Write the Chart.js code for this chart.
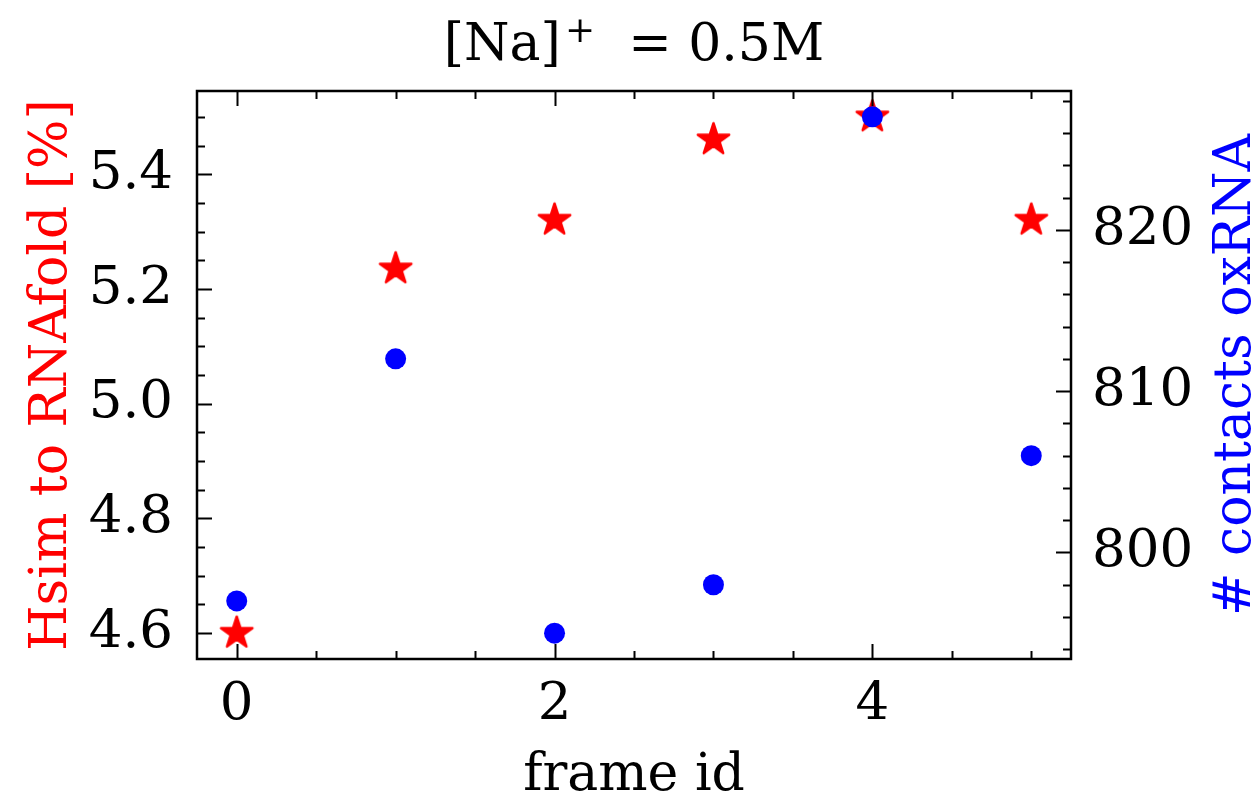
<!DOCTYPE html>
<html>
<head>
<meta charset="utf-8">
<script src="https://cdn.jsdelivr.net/npm/chart.js@4.4.0/dist/chart.umd.min.js"></script>
<style>
  html, body { margin: 0; padding: 0; background: #fff; }
  canvas { display: block; }
</style>
</head>
<body>
<canvas id="chart" width="1258" height="809"></canvas>
<script>
const frameIds = [0, 1, 2, 3, 4, 5];
const hsimPercent = [4.60, 5.235, 5.32, 5.46, 5.50, 5.32];
const contacts = [797, 812, 795, 798, 827, 806];

const FONT = '"DejaVu Serif", "Liberation Serif", serif';
const RED = '#ff0000';
const BLUE = '#0000ff';

// matplotlib-like 5% margins around the data
function padRange(vals) {
    const lo = Math.min(...vals), hi = Math.max(...vals);
    const p = (hi - lo) * 0.05;
    return [lo - p, hi + p];
}
const xRange = padRange(frameIds);
const hsimRange = padRange(hsimPercent);
const contactRange = padRange(contacts);

// filled five point star used as the marker of the red series
function makeStar(r, color) {
    const c = document.createElement('canvas');
    const s = Math.ceil(r * 2 + 6);
    c.width = s; c.height = s;
    const g = c.getContext('2d');
    const cx = s / 2, cy = s / 2, ri = r * 0.382;
    g.beginPath();
    for (let i = 0; i < 10; i++) {
        const rad = i % 2 === 0 ? r : ri;
        const a = -Math.PI / 2 + i * Math.PI / 5;
        const px = cx + rad * Math.cos(a), py = cy + rad * Math.sin(a);
        if (i === 0) g.moveTo(px, py); else g.lineTo(px, py);
    }
    g.closePath();
    g.fillStyle = color;
    g.fill();
    g.lineJoin = 'round';
    g.lineWidth = 2.5;
    g.strokeStyle = color;
    g.stroke();
    return c;
}

// frame, inward ticks on all four sides, axis titles and the title
const framePlugin = {
    id: 'frame',
    afterDraw(chart) {
        const { ctx, chartArea: a, scales } = chart;
        ctx.save();
        ctx.strokeStyle = '#000';
        ctx.lineWidth = 2;
        const MAJ = 15, MIN = 8;
        const near = (v, step) => Math.abs(v / step - Math.round(v / step)) < 1e-6;

        ctx.beginPath();
        const sx = scales.x;
        for (let v = Math.ceil(sx.min / 0.5) * 0.5; v <= sx.max + 1e-9; v += 0.5) {
            const px = Math.round(sx.getPixelForValue(v)) + 0.5;
            const len = near(v, 2) ? MAJ : MIN;
            ctx.moveTo(px, a.bottom); ctx.lineTo(px, a.bottom - len);
            ctx.moveTo(px, a.top); ctx.lineTo(px, a.top + len);
        }
        const sy = scales.y;
        for (let v = Math.ceil(sy.min / 0.05 - 1e-6) * 0.05; v <= sy.max + 1e-9; v += 0.05) {
            const py = Math.round(sy.getPixelForValue(v)) + 0.5;
            const len = near(v, 0.2) ? MAJ : MIN;
            ctx.moveTo(a.left, py); ctx.lineTo(a.left + len, py);
        }
        const sy2 = scales.y2;
        for (let v = Math.ceil(sy2.min / 2) * 2; v <= sy2.max + 1e-9; v += 2) {
            const py = Math.round(sy2.getPixelForValue(v)) + 0.5;
            const len = near(v, 10) ? MAJ : MIN;
            ctx.moveTo(a.right, py); ctx.lineTo(a.right - len, py);
        }
        ctx.stroke();

        ctx.lineWidth = 2.5;
        ctx.strokeRect(a.left, a.top, a.right - a.left, a.bottom - a.top);

        const midY = (a.top + a.bottom) / 2;
        const midX = (a.left + a.right) / 2;
        ctx.font = '52px ' + FONT;
        ctx.textBaseline = 'alphabetic';
        ctx.textAlign = 'center';
        ctx.fillStyle = '#000';
        ctx.fillText('frame id', midX, 790);

        ctx.save();
        ctx.translate(66, midY);
        ctx.rotate(-Math.PI / 2);
        ctx.fillStyle = RED;
        ctx.fillText('Hsim to RNAfold [%]', 0, 0);
        ctx.restore();

        ctx.save();
        ctx.translate(1250, midY);
        ctx.rotate(-Math.PI / 2);
        ctx.fillStyle = BLUE;
        ctx.fillText('# contacts oxRNA', 0, 0);
        ctx.restore();

        // [Na]^+ = 0.5M
        ctx.textAlign = 'left';
        ctx.fillStyle = '#000';
        const big = '52px ' + FONT, small = '36px ' + FONT;
        ctx.font = big;
        const w1 = ctx.measureText('[Na]').width;
        const w3 = ctx.measureText('  = 0.5M').width;
        ctx.font = small;
        const w2 = ctx.measureText('+').width + 4;
        let tx = midX - (w1 + w2 + w3) / 2;
        ctx.font = big;
        ctx.fillText('[Na]', tx, 60);
        ctx.font = small;
        ctx.fillText('+', tx + w1 + 4, 42);
        ctx.font = big;
        ctx.fillText('  = 0.5M', tx + w1 + w2, 60);
        ctx.restore();
    }
};

const tickFont = { family: FONT, size: 53 };

new Chart(document.getElementById('chart'), {
    type: 'scatter',
    data: {
        datasets: [
            {
                label: '# contacts oxRNA',
                data: frameIds.map((f, i) => ({ x: f, y: contacts[i] })),
                yAxisID: 'y2',
                backgroundColor: BLUE,
                borderColor: BLUE,
                pointRadius: 10.5,
                pointBorderWidth: 0,
                order: 0
            },
            {
                label: 'Hsim to RNAfold [%]',
                data: frameIds.map((f, i) => ({ x: f, y: hsimPercent[i] })),
                yAxisID: 'y',
                pointStyle: makeStar(16.5, RED),
                order: 1
            }
        ]
    },
    options: {
        responsive: false,
        devicePixelRatio: 1,
        animation: false,
        layout: { padding: { top: 91, left: 0, right: 0, bottom: 0 } },
        plugins: { legend: { display: false }, tooltip: { enabled: false } },
        scales: {
            x: {
                type: 'linear',
                min: xRange[0], max: xRange[1],
                grid: { display: false, drawTicks: false },
                border: { display: false },
                ticks: { stepSize: 2, includeBounds: false, padding: 14, color: '#000', font: tickFont,
                         callback: v => v.toFixed(0) },
                afterFit(s) { s.height = 150; }
            },
            y: {
                position: 'left',
                min: hsimRange[0], max: hsimRange[1],
                grid: { display: false, drawTicks: false },
                border: { display: false },
                ticks: { stepSize: 0.2, includeBounds: false, padding: 24, color: '#000', font: tickFont,
                         callback: v => v.toFixed(1) },
                afterFit(s) { s.width = 197; }
            },
            y2: {
                position: 'right',
                min: contactRange[0], max: contactRange[1],
                grid: { display: false, drawTicks: false },
                border: { display: false },
                ticks: { stepSize: 10, includeBounds: false, padding: 21, color: '#000', font: tickFont,
                         callback: v => v.toFixed(0) },
                afterFit(s) { s.width = 187; }
            }
        }
    },
    plugins: [framePlugin]
});
</script>
</body>
</html>
